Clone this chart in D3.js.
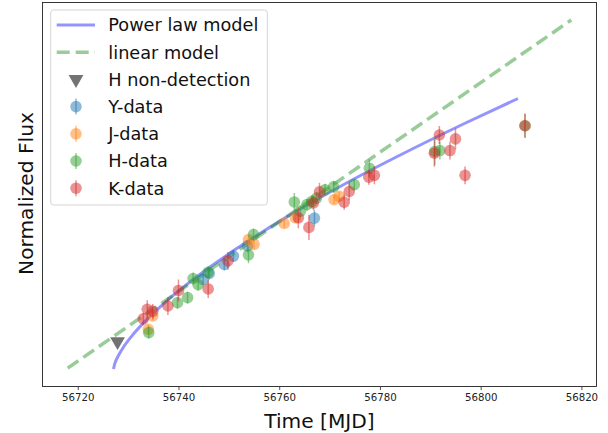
<!DOCTYPE html>
<html>
<head>
<meta charset="utf-8">
<script src="https://cdn.jsdelivr.net/npm/d3@7"></script>
<style>
  html, body { margin: 0; padding: 0; background: #fff; }
  svg { display: block; font-family: "DejaVu Sans", sans-serif; }
</style>
</head>
<body>
<svg id="chart" width="608" height="433"></svg>
<script>
// ---- data ----
const xTicks = [56720, 56740, 56760, 56780, 56800, 56820];

const yMJD  = [56744.9, 56746.1, 56749.1, 56750.9, 56753.7, 56767.0];
const yFlux = [0.300, 0.320, 0.350, 0.378, 0.412, 0.505];
const yErr  = [0.02, 0.02, 0.02, 0.02, 0.02, 0.027];

const jMJD  = [56734.0, 56734.9, 56753.9, 56755.0, 56761.0, 56763.2, 56770.9, 56771.9];
const jFlux = [0.133, 0.178, 0.433, 0.417, 0.487, 0.506, 0.567, 0.578];
const jErr  = [0.015, 0.015, 0.015, 0.015, 0.015, 0.015, 0.015, 0.015];

const hMJD  = [56734.1, 56739.8, 56741.8, 56742.9, 56743.9, 56745.9, 56753.9, 56754.9, 56763.0, 56764.2,
               56765.5, 56766.5, 56767.4, 56769.1, 56770.8, 56774.9, 56777.9, 56790.9, 56791.9, 56808.8];
const hFlux = [0.122, 0.222, 0.239, 0.303, 0.282, 0.324, 0.382, 0.450, 0.559, 0.528,
               0.550, 0.561, 0.572, 0.600, 0.610, 0.617, 0.672, 0.728, 0.731, 0.814];
const hErr  = [0.02, 0.02, 0.02, 0.02, 0.02, 0.02, 0.028, 0.02, 0.03, 0.02,
               0.02, 0.02, 0.02, 0.02, 0.02, 0.02, 0.03, 0.045, 0.03, 0.04];

const kMJD  = [56733.0, 56733.8, 56734.9, 56737.9, 56740.0, 56745.9, 56749.8, 56763.8, 56765.9, 56766.8,
               56768.0, 56772.9, 56773.9, 56777.8, 56778.9, 56790.8, 56791.8, 56793.9, 56795.0, 56796.9, 56808.8];
const kFlux = [0.168, 0.200, 0.193, 0.211, 0.263, 0.268, 0.362, 0.506, 0.474, 0.556,
               0.593, 0.558, 0.594, 0.642, 0.648, 0.722, 0.783, 0.731, 0.770, 0.648, 0.814];
const kErr  = [0.02, 0.03, 0.025, 0.03, 0.037, 0.03, 0.03, 0.035, 0.042, 0.025,
               0.03, 0.025, 0.03, 0.025, 0.03, 0.045, 0.03, 0.03, 0.035, 0.03, 0.04];

const ndMJD  = [56727.9];
const ndFlux = [0.092];

// power-law model curve
const powMJD  = [56727.1, 56727.35, 56727.6, 56728.1, 56729.1, 56731.1, 56734.1, 56738.1,
                 56743.1, 56751.1, 56761.1, 56773.1, 56787.1, 56797.1, 56807.4];
const powFlux = [0.0, 0.018, 0.029, 0.046, 0.074, 0.118, 0.172, 0.234,
                 0.302, 0.398, 0.505, 0.620, 0.742, 0.824, 0.905];

// linear model end points
const linMJD  = [56718, 56818];
const linFlux = [0.003, 1.168];

const legendLabels = ["Power law model", "linear model", "H non-detection", "Y-data", "J-data", "H-data", "K-data"];

// ---- layout ----
const svg = d3.select("#chart");
const L = 42.5, R = 596.5, T = 2.5, B = 386.5;

const x = d3.scaleLinear().domain([56713, 56823]).range([L, R]);
const y = d3.scaleLinear().domain([-0.0584, 1.2264]).range([B, T]);

svg.append("defs").append("clipPath").attr("id", "clip")
  .append("rect").attr("x", L).attr("y", T).attr("width", R - L).attr("height", B - T);

const plot = svg.append("g").attr("clip-path", "url(#clip)");

// power law model
plot.append("path")
  .datum(d3.zip(powMJD, powFlux))
  .attr("d", d3.line().x(d => x(d[0])).y(d => y(d[1])).curve(d3.curveMonotoneX))
  .attr("fill", "none").attr("stroke", "blue").attr("stroke-opacity", 0.42)
  .attr("stroke-width", 3);

// linear model
plot.append("path")
  .datum(d3.zip(linMJD, linFlux))
  .attr("d", d3.line().x(d => x(d[0])).y(d => y(d[1])))
  .attr("fill", "none").attr("stroke", "green").attr("stroke-opacity", 0.4)
  .attr("stroke-width", 3.5).attr("stroke-dasharray", "13,6");

// non-detection
const tri = d3.symbol().type(d3.symbolTriangle).size(95);
plot.selectAll("path.nd").data(d3.zip(ndMJD, ndFlux)).enter().append("path")
  .attr("class", "nd")
  .attr("d", tri)
  .attr("transform", d => `translate(${x(d[0])},${y(d[1])}) rotate(180)`)
  .attr("fill", "black").attr("fill-opacity", 0.55);

// data series
const series = [
  {mjd: yMJD, flux: yFlux, err: yErr, color: "#1f77b4"},
  {mjd: jMJD, flux: jFlux, err: jErr, color: "#ff7f0e"},
  {mjd: hMJD, flux: hFlux, err: hErr, color: "#2ca02c"},
  {mjd: kMJD, flux: kFlux, err: kErr, color: "#d62728"},
];

series.forEach(s => {
  const pts = s.mjd.map((m, i) => ({m, f: s.flux[i], e: s.err[i]}));
  const g = plot.append("g");
  g.selectAll("line").data(pts).enter().append("line")
    .attr("x1", d => x(d.m)).attr("x2", d => x(d.m))
    .attr("y1", d => y(d.f - d.e)).attr("y2", d => y(d.f + d.e))
    .attr("stroke", s.color).attr("stroke-opacity", 0.5).attr("stroke-width", 1.5);
  g.selectAll("circle").data(pts).enter().append("circle")
    .attr("cx", d => x(d.m)).attr("cy", d => y(d.f)).attr("r", 5.8)
    .attr("fill", s.color).attr("fill-opacity", 0.5);
});

// frame
svg.append("rect").attr("x", L).attr("y", T).attr("width", R - L).attr("height", B - T)
  .attr("fill", "none").attr("stroke", "#222").attr("stroke-width", 0.9);

// x axis
const xAxis = d3.axisBottom(x).tickValues(xTicks).tickFormat(d3.format("d")).tickSize(3.5).tickPadding(3.5);
const gx = svg.append("g").attr("transform", `translate(0,${B})`).call(xAxis);
gx.select(".domain").remove();
gx.selectAll(".tick line").attr("stroke", "#222").attr("stroke-width", 0.8);
gx.selectAll(".tick text").attr("font-size", 10.2).attr("fill", "#222").attr("font-family", "DejaVu Sans");

svg.append("text").attr("x", (L + R) / 2).attr("y", 428)
  .attr("text-anchor", "middle").attr("font-size", 20.2).attr("fill", "#111")
  .text("Time [MJD]");

svg.append("text").attr("transform", `translate(33,${(T + B) / 2 - 1}) rotate(-90)`)
  .attr("text-anchor", "middle").attr("font-size", 20.2).attr("fill", "#111")
  .text("Normalized Flux");

// legend
const lg = svg.append("g");
lg.append("rect").attr("x", 50.7).attr("y", 10).attr("width", 216.6).attr("height", 195)
  .attr("rx", 3).attr("fill", "white").attr("fill-opacity", 0.8)
  .attr("stroke", "#d4d4d4").attr("stroke-width", 1);

const rowY = i => 25 + i * 27.2;
legendLabels.forEach((lab, i) => {
  lg.append("text").attr("x", 108.3).attr("y", rowY(i)).attr("dy", "0.36em")
    .attr("font-size", 17.7).attr("fill", "#111").text(lab);
});
lg.append("line").attr("x1", 56.7).attr("x2", 95).attr("y1", rowY(0)).attr("y2", rowY(0))
  .attr("stroke", "blue").attr("stroke-opacity", 0.42).attr("stroke-width", 3);
lg.append("line").attr("x1", 56.7).attr("x2", 95).attr("y1", rowY(1)).attr("y2", rowY(1))
  .attr("stroke", "green").attr("stroke-opacity", 0.4).attr("stroke-width", 3.5)
  .attr("stroke-dasharray", "13,6");
lg.append("path").attr("d", tri).attr("transform", `translate(76,${rowY(2)}) rotate(180)`)
  .attr("fill", "black").attr("fill-opacity", 0.55);
series.forEach((s, j) => {
  const yy = rowY(3 + j);
  lg.append("line").attr("x1", 76).attr("x2", 76).attr("y1", yy - 8).attr("y2", yy + 8)
    .attr("stroke", s.color).attr("stroke-opacity", 0.5).attr("stroke-width", 1.5);
  lg.append("circle").attr("cx", 76).attr("cy", yy).attr("r", 5.8)
    .attr("fill", s.color).attr("fill-opacity", 0.5);
});
</script>
</body>
</html>
